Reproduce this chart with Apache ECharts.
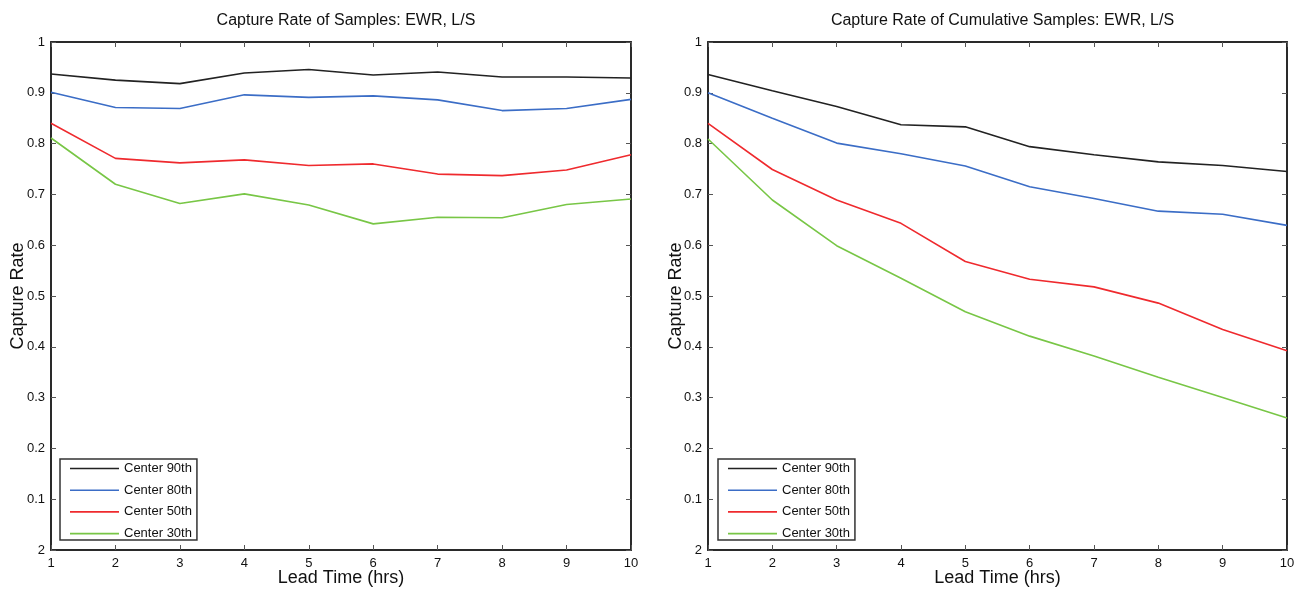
<!DOCTYPE html>
<html><head><meta charset="utf-8">
<script src="https://cdn.jsdelivr.net/npm/echarts@6/dist/echarts.min.js"></script>
<style>html,body{margin:0;padding:0;background:#fff}#c{width:1303px;height:590px}</style>
</head><body><div id="c"></div>
<script>
const leadTimes = [1,2,3,4,5,6,7,8,9,10];
const seriesNames = ['Center 90th','Center 80th','Center 50th','Center 30th'];
const yTickLabels = {'1':'1','0.9':'0.9','0.8':'0.8','0.7':'0.7','0.6':'0.6','0.5':'0.5','0.4':'0.4','0.3':'0.3','0.2':'0.2','0.1':'0.1','0':'2'};
const leftTitle = 'Capture Rate of Samples: EWR, L/S';
const rightTitle = 'Capture Rate of Cumulative Samples: EWR, L/S';
const xName = 'Lead Time (hrs)';
const yName = 'Capture Rate';

// Left: samples
const s90 = [0.937,0.925,0.918,0.939,0.946,0.935,0.941,0.931,0.931,0.929];
const s80 = [0.901,0.871,0.869,0.896,0.891,0.894,0.886,0.865,0.869,0.887];
const s50 = [0.840,0.771,0.762,0.768,0.757,0.760,0.740,0.737,0.748,0.778];
const s30 = [0.811,0.720,0.682,0.701,0.679,0.642,0.655,0.654,0.680,0.691];
// Right: cumulative samples
const c90 = [0.936,0.904,0.873,0.837,0.833,0.794,0.778,0.764,0.757,0.745];
const c80 = [0.900,0.850,0.801,0.780,0.756,0.715,0.692,0.667,0.661,0.639];
const c50 = [0.840,0.749,0.689,0.643,0.568,0.533,0.518,0.486,0.434,0.392];
const c30 = [0.809,0.689,0.599,0.535,0.469,0.421,0.382,0.340,0.300,0.260];

const colors = ['#222222','#3b6dc6','#ef2a2e','#78c646'];
const FONT = '"Liberation Sans",sans-serif';
const frame = '#2a2a2a';

const grids = [
  {left:51, right:672, top:42, bottom:40, outerBoundsMode:'none', containLabel:false},
  {left:708, right:16, top:42, bottom:40, outerBoundsMode:'none', containLabel:false}
];
function pair(arr){ return leadTimes.map((x,i)=>[x,arr[i]]); }

const xAxes=[], yAxes=[], series=[], titles=[], legends=[], graphics=[];
[[leftTitle,[s90,s80,s50,s30]],[rightTitle,[c90,c80,c50,c30]]].forEach((p,gi)=>{
  const cx = gi===0 ? (51+631)/2 : (708+1287)/2;
  titles.push({text:p[0], left:cx, top:8, textAlign:'center',
    textStyle:{fontFamily:FONT, fontSize:16, fontWeight:'normal', color:'#111'}});
  graphics.push({type:'text', x:cx, y:578, silent:true,
    style:{text:xName, font:'18px "Liberation Sans", sans-serif', fill:'#111', align:'center', verticalAlign:'middle'}});
  graphics.push({type:'text', x:(gi===0?18:676), y:296, rotation:Math.PI/2, silent:true,
    style:{text:yName, font:'18px "Liberation Sans", sans-serif', fill:'#111', align:'center', verticalAlign:'middle'}});
  const common = {type:'value', min:1, max:10, interval:1, gridIndex:gi,
    axisLine:{show:true, onZero:false, lineStyle:{color:frame, width:2}},
    axisTick:{show:true, inside:true, length:5, lineStyle:{color:'#555', width:1}},
    splitLine:{show:false}};
  xAxes.push(Object.assign({}, common, {position:'bottom',
    axisLabel:{fontFamily:FONT, fontSize:13, color:'#111', margin:7}}));
  xAxes.push(Object.assign({}, common, {position:'top', axisLabel:{show:false}}));
  const ycommon = {type:'value', min:0, max:1, interval:0.1, gridIndex:gi,
    axisLine:{show:true, onZero:false, lineStyle:{color:frame, width:2}},
    axisTick:{show:true, inside:true, length:5, lineStyle:{color:'#555', width:1}},
    splitLine:{show:false}};
  yAxes.push(Object.assign({}, ycommon, {position:'left',
    axisLabel:{fontFamily:FONT, fontSize:13, color:'#111', margin:6,
      formatter:v=>{const k=String(Math.round(v*10)/10); return yTickLabels[k]!==undefined?yTickLabels[k]:k;}}}));
  yAxes.push(Object.assign({}, ycommon, {position:'right', axisLabel:{show:false}}));
  p[1].forEach((arr,si)=>{
    series.push({name:seriesNames[si], type:'line', xAxisIndex:gi*2, yAxisIndex:gi*2,
      data:pair(arr), symbol:'none', showSymbol:false, silent:true,
      lineStyle:{color:colors[si], width:1.6}, itemStyle:{color:colors[si]}, z:5});
  });
  legends.push({orient:'vertical', left:(gi===0?60:718), top:459,
    data:seriesNames, itemWidth:49, itemHeight:10, itemGap:8.7,
    padding:[3,5,0,10], borderColor:'#333', borderWidth:1.5, backgroundColor:'#fff',
    selectedMode:false, icon:'path://M0,5 L48,5 L48,6.6 L0,6.6 Z',
    textStyle:{fontFamily:FONT, fontSize:13, color:'#111'}});
});

const chart = echarts.init(document.getElementById('c'), null, {renderer:'canvas'});
chart.setOption({
  animation:false, backgroundColor:'#fff',
  color:colors,
  title:titles, grid:grids, xAxis:xAxes, yAxis:yAxes, series:series, legend:legends,
  graphic:graphics
});
</script></body></html>
